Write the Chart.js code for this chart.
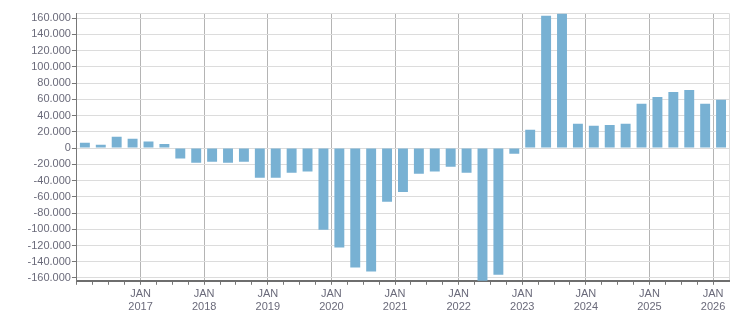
<!DOCTYPE html>
<html>
<head>
<meta charset="utf-8">
<script src="https://cdn.jsdelivr.net/npm/chart.js@4/dist/chart.umd.min.js"></script>
<style>
    html, body { margin: 0; padding: 0; background: #fff; }
    #wrap { width: 751px; height: 313px; }
</style>
</head>
<body>
<div id="wrap"><canvas id="balanceChart"></canvas></div>
<script>
// quarters, Q1 2016 .. Q1 2026
const quarters = [
    "Q1 2016", "Q2 2016", "Q3 2016", "Q4 2016",
    "Q1 2017", "Q2 2017", "Q3 2017", "Q4 2017",
    "Q1 2018", "Q2 2018", "Q3 2018", "Q4 2018",
    "Q1 2019", "Q2 2019", "Q3 2019", "Q4 2019",
    "Q1 2020", "Q2 2020", "Q3 2020", "Q4 2020",
    "Q1 2021", "Q2 2021", "Q3 2021", "Q4 2021",
    "Q1 2022", "Q2 2022", "Q3 2022", "Q4 2022",
    "Q1 2023", "Q2 2023", "Q3 2023", "Q4 2023",
    "Q1 2024", "Q2 2024", "Q3 2024", "Q4 2024",
    "Q1 2025", "Q2 2025", "Q3 2025", "Q4 2025",
    "Q1 2026"
];

const values = [
    6500, 4000, 14000, 11500,
    8000, 5000, -13000, -18000,
    -17000, -18000, -17000, -36500,
    -36500, -30500, -29000, -100500,
    -122500, -147000, -152000, -66000,
    -54000, -31500, -29000, -23000,
    -30500, -165000, -156000, -7000,
    22500, 163000, 165500, 30000,
    27500, 28500, 30000, 54500,
    63000, 69000, 71500, 54500,
    59500
];

const yearLabels = ["2017", "2018", "2019", "2020", "2021", "2022", "2023", "2024", "2025", "2026"];
const yTicks = [-160000, -140000, -120000, -100000, -80000, -60000, -40000, -20000, 0,
    20000, 40000, 60000, 80000, 100000, 120000, 140000, 160000];

const yMin = -163500;
const yMax = 166000;

const fmt = new Intl.NumberFormat("de-DE");
const labelFont = { family: "Liberation Sans", size: 11, lineHeight: 1.15 };
const NONE = "rgba(0,0,0,0)";

const ctx = document.getElementById("balanceChart").getContext("2d");

new Chart(ctx, {
    type: "bar",
    data: {
        labels: quarters,
        datasets: [{
            data: values.map((v, i) => ({ x: i + 0.5, y: v })),
            backgroundColor: "#78b1d3",
            borderWidth: 0,
            barPercentage: 0.78,
            categoryPercentage: 0.8
        }]
    },
    options: {
        responsive: true,
        maintainAspectRatio: false,
        animation: false,
        layout: {
            padding: { left: 26.5, right: 22, top: 13.3, bottom: -2.5 }
        },
        plugins: {
            legend: { display: false },
            tooltip: { enabled: false }
        },
        scales: {
            x: {
                type: "linear",
                min: 0,
                max: quarters.length,
                offset: false,
                afterBuildTicks: (scale) => {
                    // one tick per quarter boundary
                    scale.ticks = quarters.map((q, i) => ({ value: i }))
                        .concat([{ value: quarters.length }]);
                },
                grid: {
                    offset: false,
                    color: (c) => {
                        if (!c.tick) return "#b4b4b4";
                        const v = c.tick.value;
                        if (v === quarters.length) return "#dcdcdc";
                        return (v % 4 === 0 && v > 0) ? "#b4b4b4" : NONE;
                    },
                    tickColor: (c) => (c.tick && c.tick.value === quarters.length) ? NONE : "#777",
                    tickLength: 4,
                    lineWidth: 1
                },
                border: { color: "#6e6e6e", width: 2 },
                ticks: {
                    autoSkip: false,
                    maxRotation: 0,
                    padding: 2.7,
                    color: "#6a6a7a",
                    font: labelFont,
                    callback: (v) => {
                        if (v % 4 !== 0 || v === 0) return "";
                        const label = yearLabels[v / 4 - 1];
                        return label ? ["JAN", label] : "";
                    }
                }
            },
            y: {
                min: yMin,
                max: yMax,
                afterBuildTicks: (scale) => {
                    scale.ticks = yTicks.map(v => ({ value: v })).concat([{ value: yMax }]);
                },
                grid: {
                    color: "#dcdcdc",
                    tickColor: (c) => (c.tick && c.tick.value === yMax) ? NONE : "#777",
                    tickLength: 5,
                    lineWidth: 1
                },
                border: { color: "#777", width: 1 },
                ticks: {
                    autoSkip: false,
                    padding: 1,
                    color: "#6a6a7a",
                    font: labelFont,
                    callback: (v) => yTicks.includes(v) ? fmt.format(v) : ""
                }
            }
        }
    }
});
</script>
</body>
</html>
